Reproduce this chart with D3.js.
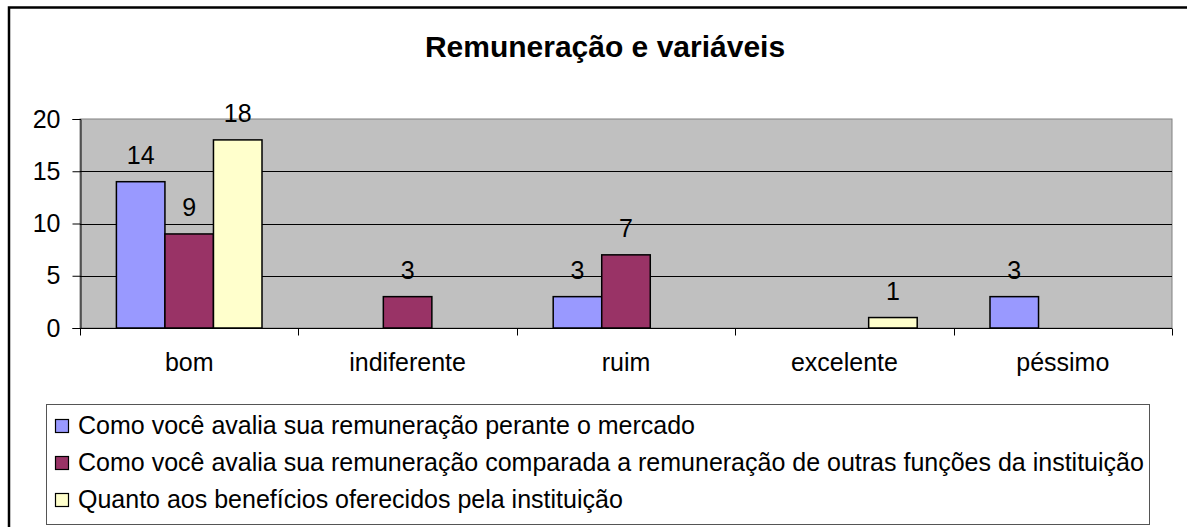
<!DOCTYPE html>
<html>
<head>
<meta charset="utf-8">
<script src="https://cdn.jsdelivr.net/npm/d3@7"></script>
<style>
  body { margin:0; background:#fff; }
  svg { display:block; font-family:"Liberation Sans", Arial, sans-serif; }
</style>
</head>
<body>
<svg id="chart" width="1187" height="527"></svg>
<script>
// data
var categories = ["bom", "indiferente", "ruim", "excelente", "péssimo"];
var seriesNames = [
  "Como você avalia sua remuneração perante o mercado",
  "Como você avalia sua remuneração comparada a remuneração de outras funções da instituição",
  "Quanto aos benefícios oferecidos pela instituição"
];
var mercado    = [14, 0, 3, 0, 3];
var comparada  = [9, 3, 7, 0, 0];
var beneficios = [18, 0, 0, 1, 0];
var yTicks = [0, 5, 10, 15, 20];
var colors = ["#9999FF", "#993366", "#FFFFCC"];

var allSeries = [mercado, comparada, beneficios];

var svg = d3.select("#chart");
var fs = "25px";

// outer frame (right/bottom edges fall outside the picture)
svg.append("path")
  .attr("d", "M9,600 L9,7.5 L1200,7.5")
  .attr("fill", "none").attr("stroke", "#000").attr("stroke-width", 2.5);

svg.append("text")
  .attr("x", 605).attr("y", 57)
  .attr("text-anchor", "middle")
  .attr("font-weight", "bold").attr("font-size", "30px")
  .text("Remuneração e variáveis");

var pL = 80, pR = 1172, pT = 119, pB = 328;

var x = d3.scaleBand().domain(categories).range([pL, pR]);
var y = d3.scaleLinear().domain([0, 20]).range([pB, pT]);
// gap width 150% like the spreadsheet default
var barW = x.bandwidth() / 4.5;
var xs = d3.scaleBand().domain([0, 1, 2]).range([0, barW * 3]);

svg.append("rect")
  .attr("x", pL).attr("y", pT)
  .attr("width", pR - pL).attr("height", pB - pT)
  .attr("fill", "#C0C0C0").attr("stroke", "#808080").attr("stroke-width", 1);

// gridlines
svg.append("g").selectAll("line")
  .data(yTicks.filter(function(d){ return d > 0 && d < 20; }))
  .join("line")
  .attr("x1", pL).attr("x2", pR)
  .attr("y1", function(d){ return Math.round(y(d)) + 0.5; })
  .attr("y2", function(d){ return Math.round(y(d)) + 0.5; })
  .attr("stroke", "#000").attr("stroke-width", 1);

// y axis
var yAxis = svg.append("g")
  .attr("transform", "translate(" + (pL + 0.5) + ",0)")
  .call(d3.axisLeft(y).tickValues(yTicks).tickSize(8).tickPadding(12));
yAxis.select(".domain").attr("stroke", "#000");
yAxis.selectAll("text").attr("font-size", fs).attr("fill", "#000")
  .attr("font-family", "Liberation Sans, Arial, sans-serif");

// x axis with ticks at the category boundaries
var xAxis = svg.append("g").attr("transform", "translate(0," + (pB + 0.5) + ")");
xAxis.append("line")
  .attr("x1", pL).attr("x2", pR)
  .attr("stroke", "#000").attr("stroke-width", 1);
xAxis.selectAll("line.tk")
  .data(categories.concat(["end"]))
  .join("line").attr("class", "tk")
  .attr("x1", function(d, i){ return Math.round(i < categories.length ? x(d) : pR) + 0.5; })
  .attr("x2", function(d, i){ return Math.round(i < categories.length ? x(d) : pR) + 0.5; })
  .attr("y1", 0).attr("y2", 7)
  .attr("stroke", "#000");
xAxis.selectAll("text")
  .data(categories)
  .join("text")
  .attr("x", function(d){ return x(d) + x.bandwidth() / 2; })
  .attr("y", 42)
  .attr("text-anchor", "middle")
  .attr("font-size", fs)
  .text(function(d){ return d; });

// bars
allSeries.forEach(function(vals, s){
  var g = svg.append("g");
  var pts = vals.map(function(v, i){ return {cat: categories[i], v: v}; })
    .filter(function(d){ return d.v > 0; });
  g.selectAll("rect")
    .data(pts)
    .join("rect")
    .attr("x", function(d){ return x(d.cat) + (x.bandwidth() - barW * 3) / 2 + xs(s); })
    .attr("y", function(d){ return y(d.v); })
    .attr("width", barW)
    .attr("height", function(d){ return pB - y(d.v); })
    .attr("fill", colors[s])
    .attr("stroke", "#000").attr("stroke-width", 1.5);
  g.selectAll("text")
    .data(pts)
    .join("text")
    .attr("x", function(d){ return x(d.cat) + (x.bandwidth() - barW * 3) / 2 + xs(s) + barW / 2; })
    .attr("y", function(d){ return y(d.v) - 18; })
    .attr("text-anchor", "middle")
    .attr("font-size", fs)
    .text(function(d){ return d.v; });
});

// legend
var lg = svg.append("g");
lg.append("rect")
  .attr("x", 46.5).attr("y", 404.5).attr("width", 1103).attr("height", 120)
  .attr("fill", "#fff").attr("stroke", "#555").attr("stroke-width", 1);
var rows = lg.selectAll("g.row")
  .data(seriesNames)
  .join("g").attr("class", "row")
  .attr("transform", function(d, i){ return "translate(0," + (425 + i * 37) + ")"; });
rows.append("rect")
  .attr("x", 55.5).attr("y", -5.5).attr("width", 13).attr("height", 13)
  .attr("fill", function(d, i){ return colors[i]; })
  .attr("stroke", "#000").attr("stroke-width", 1.2);
rows.append("text")
  .attr("x", 78).attr("y", 8.5)
  .attr("font-size", fs)
  .text(function(d){ return d; });
</script>
</body>
</html>
